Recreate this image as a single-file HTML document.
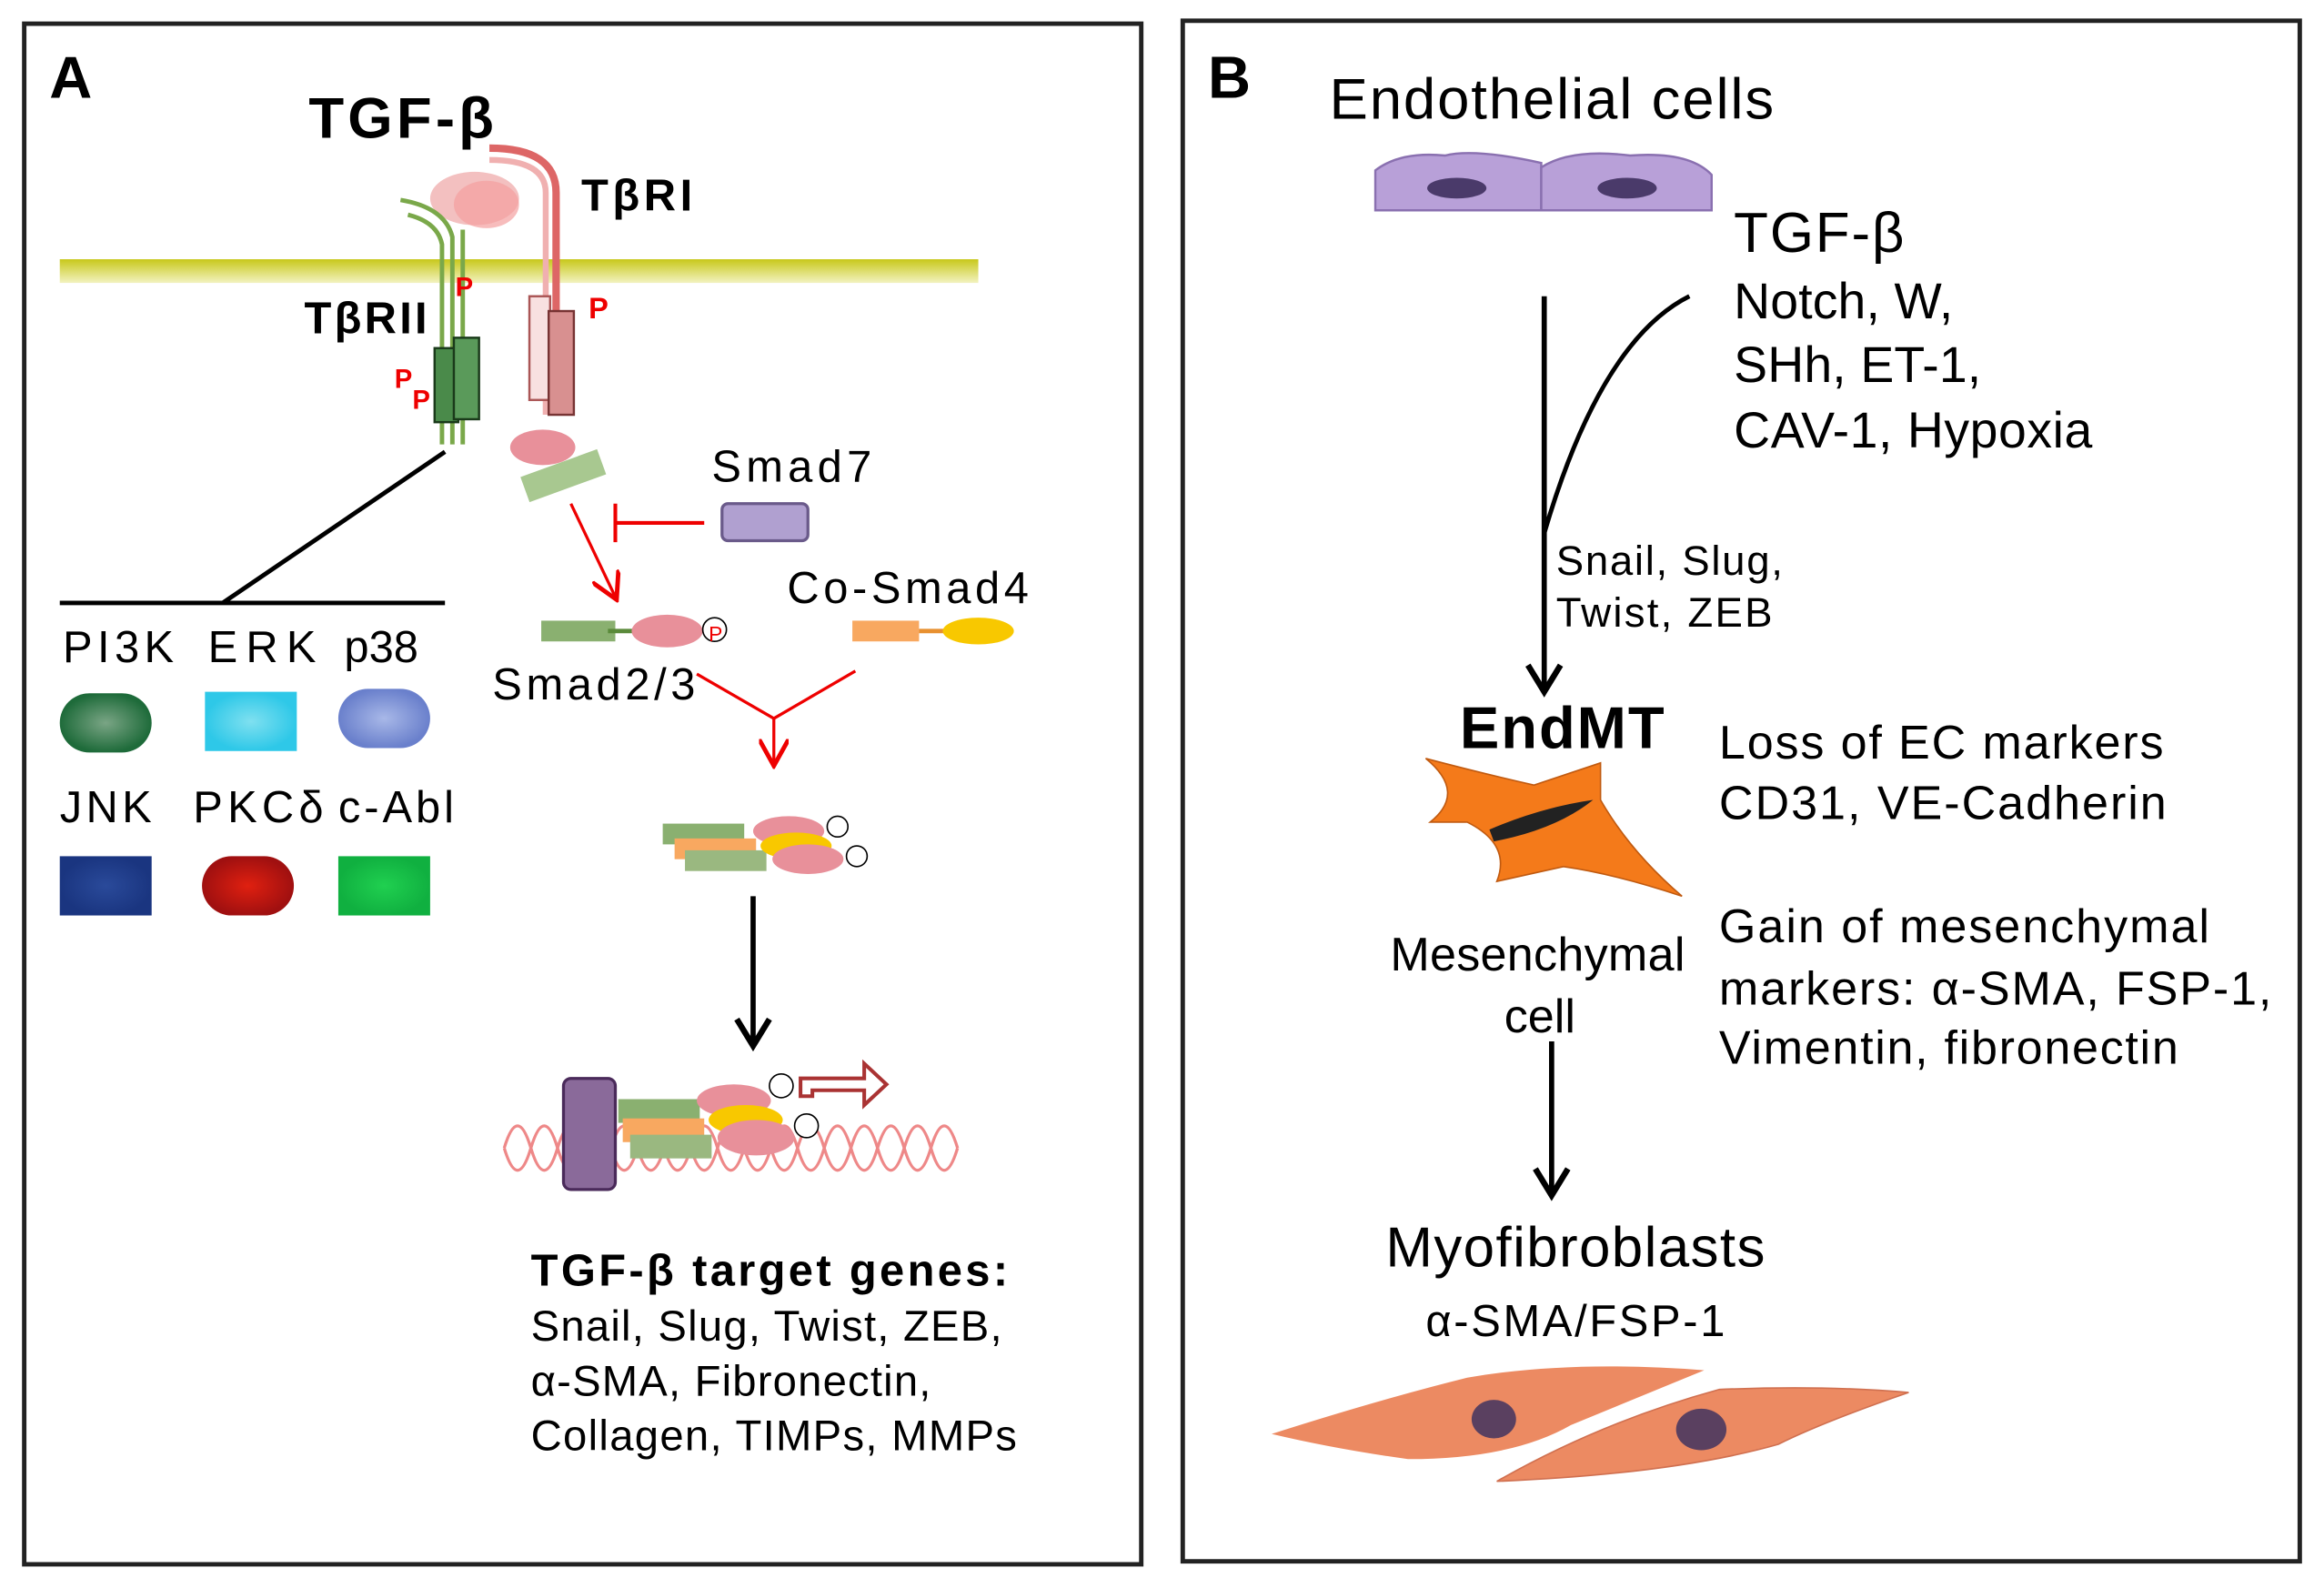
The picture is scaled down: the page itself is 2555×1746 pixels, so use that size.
<!DOCTYPE html>
<html><head><meta charset="utf-8"><style>html,body{margin:0;padding:0;background:#fff}svg{display:block}text{font-family:"Liberation Sans",sans-serif}</style></head>
<body>
<svg width="2555" height="1746" viewBox="0 0 1568 1072" xmlns="http://www.w3.org/2000/svg">
<defs>
<linearGradient id="mem" x1="0" y1="0" x2="0" y2="1"><stop offset="0" stop-color="#c8c81a"/><stop offset="1" stop-color="#f2f2c0"/></linearGradient>
<radialGradient id="g1"><stop offset="0" stop-color="#7aa585"/><stop offset="1" stop-color="#1e6b3a"/></radialGradient>
<radialGradient id="g2"><stop offset="0" stop-color="#7fe0f0"/><stop offset="1" stop-color="#2ec8e8"/></radialGradient>
<radialGradient id="g3"><stop offset="0" stop-color="#a8b8e8"/><stop offset="1" stop-color="#6a80cc"/></radialGradient>
<radialGradient id="g4"><stop offset="0" stop-color="#2a4a9a"/><stop offset="1" stop-color="#1a3580"/></radialGradient>
<radialGradient id="g5"><stop offset="0" stop-color="#e02010"/><stop offset="1" stop-color="#a01010"/></radialGradient>
<radialGradient id="g6"><stop offset="0" stop-color="#20d050"/><stop offset="1" stop-color="#10b040"/></radialGradient>
<marker id="ar" markerWidth="10" markerHeight="10" refX="8" refY="5" orient="auto"><path d="M0,0 L9,5 L0,10" fill="none" stroke="#e00" stroke-width="1.5"/></marker>
</defs>
<rect x="16" y="16" width="754" height="1040" fill="none" stroke="#222" stroke-width="3"/>
<rect x="798" y="14" width="754" height="1040" fill="none" stroke="#222" stroke-width="3"/>
<text x="33" y="66" font-size="40" font-weight="bold">A</text>
<text x="815" y="66" font-size="40" font-weight="bold">B</text>
<!-- Panel A -->
<text x="208" y="93" font-size="39" font-weight="bold" textLength="125">TGF-β</text>
<rect x="40" y="175" width="620" height="16" fill="url(#mem)"/>
<ellipse cx="320" cy="134" rx="30" ry="18" fill="#f0b0b0" opacity="0.8"/>
<ellipse cx="328" cy="138" rx="22" ry="16" fill="#f4a0a0" opacity="0.7"/>
<path d="M330,100 Q375,100 375,130 L375,280" fill="none" stroke="#d66" stroke-width="5"/>
<path d="M330,108 Q368,108 368,130 L368,280" fill="none" stroke="#f0b0b0" stroke-width="4"/>
<rect x="357" y="200" width="14" height="70" fill="#f8e0e0" stroke="#a55" stroke-width="1.5"/>
<rect x="370" y="210" width="17" height="70" fill="#d89090" stroke="#733" stroke-width="1.5"/>
<text x="392" y="142" font-size="30" font-weight="bold" textLength="75">TβRI</text>
<text x="397" y="215" font-size="20" fill="#e00" font-weight="bold">P</text>
<path d="M270,135 Q300,140 305,160 L305,300 M275,145 Q295,150 298,165 L298,300 M312,155 L312,300" fill="none" stroke="#7aa84a" stroke-width="3"/>
<rect x="293" y="235" width="16" height="50" fill="#4a8a4a" stroke="#1a3a1a" stroke-width="1.5"/>
<rect x="306" y="228" width="17" height="55" fill="#5a9a5a" stroke="#1a3a1a" stroke-width="1.5"/>
<text x="205" y="225" font-size="30" font-weight="bold" textLength="83">TβRII</text>
<text x="307" y="200" font-size="18" fill="#e00" font-weight="bold">P</text>
<text x="266" y="262" font-size="18" fill="#e00" font-weight="bold">P</text>
<text x="278" y="276" font-size="18" fill="#e00" font-weight="bold">P</text>
<line x1="300" y1="305" x2="150" y2="407" stroke="#000" stroke-width="3"/>
<line x1="40" y1="407" x2="300" y2="407" stroke="#000" stroke-width="3"/>
<text x="42" y="447" font-size="30" textLength="75">PI3K</text><text x="140" y="447" font-size="30" textLength="73">ERK</text><text x="232" y="447" font-size="30">p38</text>
<rect x="40" y="468" width="62" height="40" rx="20" fill="url(#g1)"/>
<rect x="138" y="467" width="62" height="40" fill="url(#g2)"/>
<rect x="228" y="465" width="62" height="40" rx="20" fill="url(#g3)"/>
<text x="40" y="555" font-size="30" textLength="62">JNK</text><text x="130" y="555" font-size="30" textLength="88">PKCδ</text><text x="228" y="555" font-size="30" textLength="78">c-Abl</text>
<rect x="40" y="578" width="62" height="40" fill="url(#g4)"/>
<rect x="136" y="578" width="62" height="40" rx="20" fill="url(#g5)"/>
<rect x="228" y="578" width="62" height="40" fill="url(#g6)"/>
<ellipse cx="366" cy="302" rx="22" ry="12" fill="#e8909a"/>
<rect x="352" y="312" width="55" height="18" fill="#a8c890" transform="rotate(-20 380 320)"/>
<text x="480" y="325" font-size="30" textLength="108">Smad7</text>
<rect x="487" y="340" width="58" height="25" rx="4" fill="#b0a0d0" stroke="#6a5a8a" stroke-width="2"/>
<line x1="475" y1="353" x2="415" y2="353" stroke="#e00" stroke-width="2.5"/>
<line x1="415" y1="340" x2="415" y2="366" stroke="#e00" stroke-width="2.5"/>
<line x1="385" y1="340" x2="415" y2="403" stroke="#e00" stroke-width="2" marker-end="url(#ar)"/>
<rect x="365" y="419" width="50" height="14" fill="#8ab070"/>
<line x1="410" y1="426" x2="430" y2="426" stroke="#5a8a3a" stroke-width="3"/>
<ellipse cx="450" cy="426" rx="24" ry="11" fill="#e8909a"/>
<circle cx="482" cy="425" r="8" fill="#fff" stroke="#000"/><text x="478" y="433" font-size="14" fill="#e00">P</text>
<text x="332" y="472" font-size="30" textLength="137">Smad2/3</text>
<text x="531" y="407" font-size="30" textLength="163">Co-Smad4</text>
<rect x="575" y="419" width="45" height="14" fill="#f8a860"/>
<line x1="620" y1="426" x2="640" y2="426" stroke="#e89030" stroke-width="3"/>
<ellipse cx="660" cy="426" rx="24" ry="9" fill="#f8c800"/>
<polyline points="470,455 522,485 577,453" fill="none" stroke="#e00" stroke-width="2"/>
<line x1="522" y1="485" x2="522" y2="515" stroke="#e00" stroke-width="2" marker-end="url(#ar)"/>
<rect x="447" y="556" width="55" height="14" fill="#8ab070"/><rect x="455" y="566" width="55" height="14" fill="#f8a860"/><rect x="462" y="574" width="55" height="14" fill="#9ab880"/>
<ellipse cx="532" cy="561" rx="24" ry="10" fill="#e8909a"/><ellipse cx="537" cy="571" rx="24" ry="9" fill="#f8c800"/><ellipse cx="545" cy="580" rx="24" ry="10" fill="#e8909a"/>
<circle cx="565" cy="558" r="7" fill="#fff" stroke="#000"/><circle cx="578" cy="578" r="7" fill="#fff" stroke="#000"/>
<line x1="508" y1="605" x2="508" y2="703" stroke="#000" stroke-width="3.5"/>
<path d="M497,688 L508,706 L519,688" fill="none" stroke="#000" stroke-width="4"/>
<path d="M340,775 q9,-30 18,0 t18,0 t18,0 t18,0 t18,0 t18,0 t18,0 t18,0 t18,0 t18,0 t18,0 t18,0 t18,0 t18,0 t18,0 t18,0 t18,0" fill="none" stroke="#e88" stroke-width="2"/>
<path d="M340,775 q9,30 18,0 t18,0 t18,0 t18,0 t18,0 t18,0 t18,0 t18,0 t18,0 t18,0 t18,0 t18,0 t18,0 t18,0 t18,0 t18,0 t18,0" fill="none" stroke="#e88" stroke-width="2"/>
<rect x="380" y="728" width="35" height="75" rx="5" fill="#8a6a9a" stroke="#4a2a5a" stroke-width="2"/>
<rect x="417" y="742" width="55" height="16" fill="#8ab070"/><rect x="420" y="755" width="55" height="16" fill="#f8a860"/><rect x="425" y="766" width="55" height="16" fill="#9ab880"/>
<ellipse cx="495" cy="743" rx="25" ry="11" fill="#e8909a"/><ellipse cx="503" cy="756" rx="25" ry="10" fill="#f8c800"/><ellipse cx="510" cy="768" rx="26" ry="12" fill="#e8909a"/>
<circle cx="527" cy="733" r="8" fill="#fff" stroke="#000"/><circle cx="544" cy="760" r="8" fill="#fff" stroke="#000"/>
<path d="M540,740 L540,728 L583,728 L583,718 L598,732 L583,746 L583,736 L548,736 L548,740 Z" fill="#fff" stroke="#a33" stroke-width="2.5"/>
<text x="358" y="868" font-size="30" font-weight="bold" textLength="322">TGF-β target genes:</text>
<text x="358" y="905" font-size="29" textLength="318">Snail, Slug, Twist, ZEB,</text>
<text x="358" y="942" font-size="29" textLength="270">α-SMA, Fibronectin,</text>
<text x="358" y="979" font-size="29" textLength="328">Collagen, TIMPs, MMPs</text>
<!-- Panel B -->
<text x="897" y="80" font-size="39" textLength="300">Endothelial cells</text>
<path d="M928,142 L928,115 Q945,102 975,105 Q995,100 1040,110 L1040,142 Z" fill="#b8a0d8" stroke="#8a70b0" stroke-width="1.5"/>
<path d="M1040,142 L1040,113 Q1060,100 1100,105 Q1140,102 1155,118 L1155,142 Z" fill="#b8a0d8" stroke="#8a70b0" stroke-width="1.5"/>
<ellipse cx="983" cy="127" rx="20" ry="7" fill="#4a3a6a"/><ellipse cx="1098" cy="127" rx="20" ry="7" fill="#4a3a6a"/>
<text x="1170" y="170" font-size="38" textLength="115">TGF-β</text>
<text x="1170" y="215" font-size="34" textLength="148">Notch, W,</text>
<text x="1170" y="258" font-size="34" textLength="167">SHh, ET-1,</text>
<text x="1170" y="302" font-size="34" textLength="242">CAV-1, Hypoxia</text>
<line x1="1042" y1="200" x2="1042" y2="464" stroke="#000" stroke-width="3.5"/>
<path d="M1031,449 L1042,467 L1053,449" fill="none" stroke="#000" stroke-width="4"/>
<path d="M1140,200 Q1080,230 1042,360" fill="none" stroke="#000" stroke-width="3"/>
<text x="1050" y="388" font-size="28" textLength="153">Snail, Slug,</text>
<text x="1050" y="423" font-size="28" textLength="146">Twist, ZEB</text>
<text x="985" y="505" font-size="40" font-weight="bold" textLength="138">EndMT</text>
<path d="M962,512 Q1000,522 1035,530 L1080,515 L1080,540 Q1100,575 1135,605 Q1090,590 1055,585 L1010,595 Q1020,570 990,555 L965,555 Q990,535 962,512 Z" fill="#f47a1a" stroke="#c05a10" stroke-width="1"/>
<path d="M1005,560 Q1040,545 1075,540 Q1050,560 1008,568 Z" fill="#222"/>
<text x="938" y="655" font-size="32" textLength="199">Mesenchymal</text>
<text x="1015" y="697" font-size="32">cell</text>
<text x="1160" y="512" font-size="32" textLength="300">Loss of EC markers</text>
<text x="1160" y="553" font-size="32" textLength="302">CD31, VE-Cadherin</text>
<text x="1160" y="636" font-size="32" textLength="331">Gain of mesenchymal</text>
<text x="1160" y="678" font-size="32" textLength="373">markers: α-SMA, FSP-1,</text>
<text x="1160" y="718" font-size="32" textLength="310">Vimentin, fibronectin</text>
<line x1="1047" y1="703" x2="1047" y2="804" stroke="#000" stroke-width="3.5"/>
<path d="M1036,789 L1047,807 L1058,789" fill="none" stroke="#000" stroke-width="4"/>
<text x="935" y="855" font-size="38" textLength="256">Myofibroblasts</text>
<text x="962" y="902" font-size="30" textLength="202">α-SMA/FSP-1</text>
<path d="M858,968 Q930,945 990,930 Q1060,918 1150,925 L1060,962 Q1020,985 950,985 Q900,978 858,968 Z" fill="#ec8a62"/>
<path d="M1010,1000 Q1080,960 1160,938 Q1230,935 1288,940 Q1230,960 1200,975 Q1130,995 1010,1000 Z" fill="#ec8a62" stroke="#d07050" stroke-width="1"/>
<ellipse cx="1008" cy="958" rx="15" ry="13" fill="#5a4060"/>
<ellipse cx="1148" cy="965" rx="17" ry="14" fill="#5a4060"/>
</svg>
</body></html>
